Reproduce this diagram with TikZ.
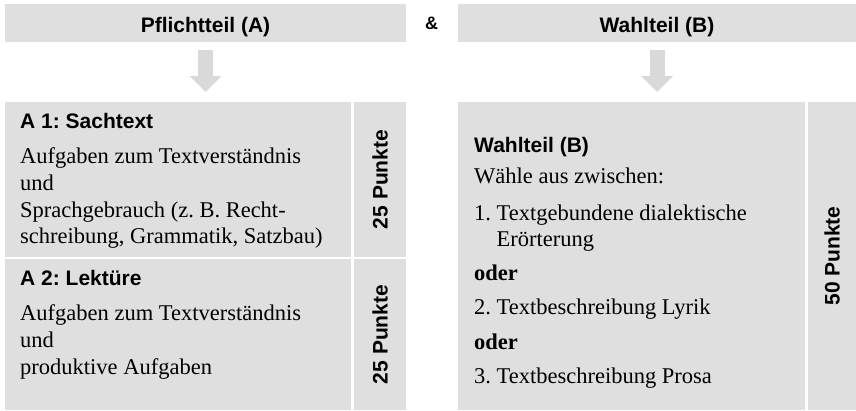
\documentclass[tikz,border=0pt]{standalone}
\usepackage{fontspec}
\setmainfont{Liberation Serif}
\setsansfont{Liberation Sans}
\usepackage{tikz}
\usetikzlibrary{positioning, arrows.meta, calc}
\frenchspacing

\tikzset{
  panel/.style={fill=gray!25, inner sep=0pt, anchor=north west},
  headtxt/.style={font=\sffamily\bfseries\fontsize{21}{25}\selectfont, inner sep=0pt},
  amptxt/.style={font=\sffamily\bfseries\fontsize{18}{22}\selectfont, inner sep=0pt},
  bodytxt/.style={font=\fontsize{22.5}{27}\selectfont, inner sep=0pt, anchor=base west},
  titletxt/.style={font=\sffamily\bfseries\fontsize{21}{25}\selectfont, inner sep=0pt, anchor=base west},
  pointstxt/.style={font=\sffamily\bfseries\fontsize{21}{25}\selectfont, inner sep=0pt, rotate=90},
  bigarrow/.style={draw=gray!30, line width=15pt, -{Triangle[length=16pt, width=31pt]}, shorten <=8pt, shorten >=10pt}
}

\begin{document}
\begin{tikzpicture}[x=1pt, y=-1pt]
\useasboundingbox (0, 0) rectangle (856, 410);

% Kopfzeile
\node[panel, minimum width=401pt, minimum height=38pt] (hdrA) at (5, 4){};
\node[panel, minimum width=398pt, minimum height=38pt] (hdrB) at (458, 4){};
\node[headtxt, anchor=base] (hdrAtxt) at (205.5, 32.3){Pflichtteil (A)};
\node[headtxt, anchor=base] (hdrBtxt) at (657, 32.3){Wahlteil (B)};
\node[amptxt, anchor=base] (amp) at (431.5, 29.3){\&};

% Felder
\node[panel, minimum width=346pt, minimum height=154.5pt] (boxAone) at (5, 102){};
\node[panel, minimum width=52pt, minimum height=154.5pt] (ptsAone) at (354, 102){};
\node[panel, minimum width=346pt, minimum height=150.5pt] (boxAtwo) at (5, 259){};
\node[panel, minimum width=52pt, minimum height=150.5pt] (ptsAtwo) at (354, 259){};
\node[panel, minimum width=347pt, minimum height=307.5pt] (boxB) at (458, 102){};
\node[panel, minimum width=48pt, minimum height=307.5pt] (ptsB) at (808, 102){};

% Pfeile
\draw[bigarrow] (hdrA.south) -- (hdrA.south |- boxAone.north);
\draw[bigarrow] (hdrB.south) -- (hdrB.south |- boxB.north);

% Punkte
\node[pointstxt] (ptsAonetxt) at (ptsAone.center){25 Punkte};
\node[pointstxt] (ptsAtwotxt) at (ptsAtwo.center){25 Punkte};
\node[pointstxt] (ptsBtxt) at (ptsB.center){50 Punkte};

% A 1
\node[titletxt] (aonetitle) at (20, 128){A 1: Sachtext};
\node[bodytxt] (aoneone) at (20, 163){Aufgaben zum Textverständnis};
\node[bodytxt] (aonetwo) at (20, 190){und};
\node[bodytxt] (aonethree) at (20, 217){Sprachgebrauch (z.~B. Recht-};
\node[bodytxt] (aonefour) at (20, 243.5){schreibung, Grammatik, Satzbau)};

% A 2
\node[titletxt] (atwotitle) at (20, 285.5){A 2: Lektüre};
\node[bodytxt] (atwoone) at (20, 320.5){Aufgaben zum Textverständnis};
\node[bodytxt] (atwotwo) at (20, 347){und};
\node[bodytxt] (atwothree) at (20, 374){produktive Aufgaben};

% B
\node[titletxt] (btitle) at (474, 152.3){Wahlteil (B)};
\node[bodytxt] (bone) at (474, 183){Wähle aus zwischen:};
\node[bodytxt] (btwo) at (474, 220){1. Textgebundene dialektische};
\node[bodytxt] (bthree) at (496.5, 246.7){Erörterung};
\node[bodytxt, font=\bfseries\fontsize{22.5}{27}\selectfont] (bor) at (474, 280){oder};
\node[bodytxt] (bfour) at (474, 314){2. Textbeschreibung Lyrik};
\node[bodytxt, font=\bfseries\fontsize{22.5}{27}\selectfont] (bortwo) at (474, 349){oder};
\node[bodytxt] (bfive) at (474, 383){3. Textbeschreibung Prosa};
\end{tikzpicture}
\end{document}
